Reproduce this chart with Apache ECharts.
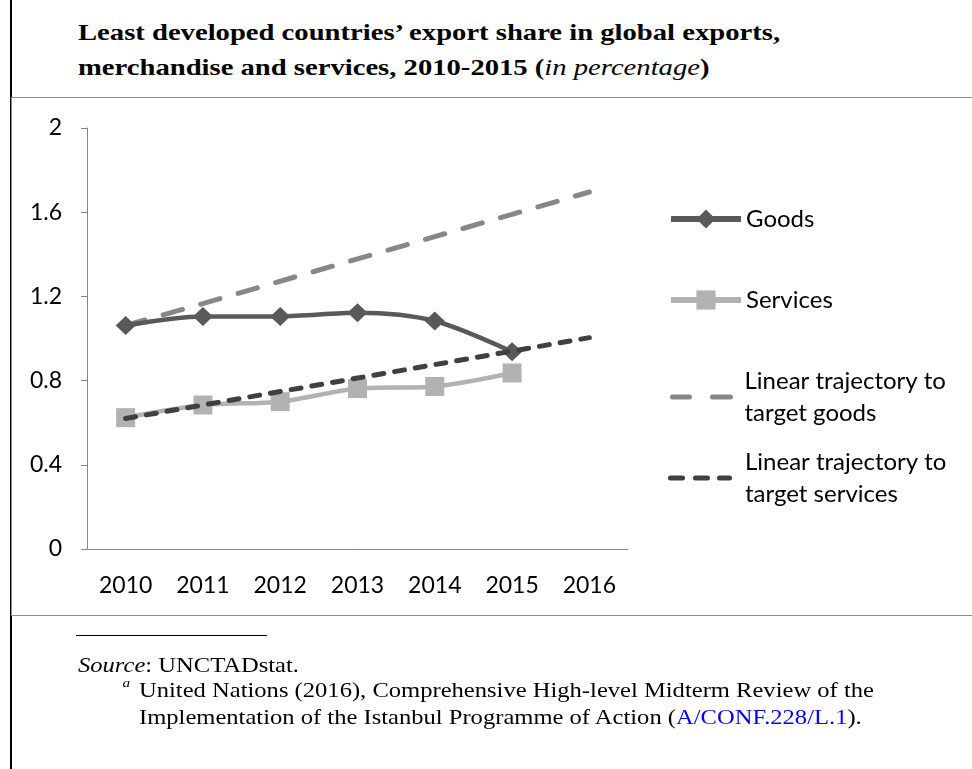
<!DOCTYPE html>
<html>
<head>
<meta charset="utf-8">
<script src="https://cdn.jsdelivr.net/npm/echarts@6/dist/echarts.min.js"></script>
<style>
  html, body { margin: 0; padding: 0; background: #fff; }
  body { width: 972px; height: 769px; position: relative; overflow: hidden; }
  .rule { position: absolute; left: 10px; top: 0; width: 2px; height: 769px; background: #000; }
  .frame { position: absolute; left: 11px; top: 97px; width: 980px; height: 519px; border: 1px solid #8c8c8c; box-sizing: border-box; }
  .title { position: absolute; left: 78px; top: 15px; font: bold 23px "Liberation Serif", serif; line-height: 35px; color: #000; white-space: nowrap; transform: scaleX(1.245); transform-origin: 0 0; }
  #chart { position: absolute; left: 0; top: 0; width: 972px; height: 769px; }
  .sep { position: absolute; left: 76px; top: 635px; width: 191px; height: 1px; background: #000; }
  .foot { position: absolute; font: 21px "Liberation Serif", serif; color: #000; line-height: 27px; white-space: nowrap; transform: scaleX(1.17); transform-origin: 0 0; }
  .foot a { color: #0000ff; text-decoration: none; }
  .foot sup { position: absolute; left: -14px; top: -8px; font-size: 13px; font-style: italic; }
</style>
</head>
<body>
<div class="rule"></div>
<div class="frame"></div>
<div class="title">Least developed countries’ export share in global exports,<br>merchandise and services, 2010-2015 (<i style="font-weight:normal">in percentage</i>)</div>
<div id="chart"></div>
<div class="sep"></div>
<div class="foot" style="left:78px; top:652px;"><i>Source</i>: UNCTADstat.</div>
<div class="foot" style="left:139px; top:677px;"><sup>a</sup>United Nations (2016), Comprehensive High-level Midterm Review of the<br>Implementation of the Istanbul Programme of Action (<a>A/CONF.228/L.1</a>).</div>
<script>
const years = ["2010", "2011", "2012", "2013", "2014", "2015", "2016"];
const goods = [1.062, 1.105, 1.105, 1.122, 1.083, 0.937, null];
const services = [0.624, 0.684, 0.700, 0.762, 0.772, 0.836, null];
const targetGoods = [1.062, 1.166, 1.272, 1.378, 1.484, 1.590, 1.696];
const targetServices = [0.620, 0.684, 0.748, 0.812, 0.876, 0.940, 1.004];
const yTicks = [0, 0.4, 0.8, 1.2, 1.6, 2];

const chart = echarts.init(document.getElementById("chart"));
const font = "Lato, 'Open Sans', sans-serif";
const legendText = { fontFamily: font, fontSize: 24, color: "#000", lineHeight: 32 };

// dashed legend icons (two long dashes / three short dashes)
const iconLongDash = "path://M2.5,0H19.5A2.5,2.5,0,0,1,19.5,5H2.5A2.5,2.5,0,0,1,2.5,0Z M42.5,0H60.5A2.5,2.5,0,0,1,60.5,5H42.5A2.5,2.5,0,0,1,42.5,0Z";
const iconShortDash = "path://M2.5,0H14.5A2.5,2.5,0,0,1,14.5,5H2.5A2.5,2.5,0,0,1,2.5,0Z M27.5,0H39.5A2.5,2.5,0,0,1,39.5,5H27.5A2.5,2.5,0,0,1,27.5,0Z M51.5,0H61.5A2.5,2.5,0,0,1,61.5,5H51.5A2.5,2.5,0,0,1,51.5,0Z";

const legendBase = {
  orient: "vertical",
  itemGap: 0,
  padding: 0,
  selectedMode: false
};

chart.setOption({
  animation: false,
  grid: { left: 87, right: 344, top: 128, bottom: 220 },
  legend: [
    { ...legendBase, data: ["Goods"], left: 668, top: 203, itemWidth: 70, itemHeight: 24,
      lineStyle: { width: 6 }, textStyle: { ...legendText } },
    { ...legendBase, data: ["Services"], left: 668, top: 284, itemWidth: 70, itemHeight: 24,
      lineStyle: { width: 6 }, textStyle: { ...legendText } },
    { ...legendBase, data: ["Linear trajectory to\ntarget goods"], left: 670, top: 349, icon: iconLongDash,
      itemWidth: 64, itemHeight: 5, textStyle: { ...legendText, padding: [32, 0, 0, 6] } },
    { ...legendBase, data: ["Linear trajectory to\ntarget services"], left: 668, top: 430, icon: iconShortDash,
      itemWidth: 64, itemHeight: 5, textStyle: { ...legendText, padding: [32, 0, 0, 8] } }
  ],
  xAxis: {
    type: "category",
    data: years,
    boundaryGap: true,
    axisLine: { lineStyle: { color: "#868686", width: 1 } },
    axisTick: { length: 7, lineStyle: { color: "#868686" } },
    axisLabel: { fontFamily: font, fontSize: 23, color: "#000", margin: 25 }
  },
  yAxis: {
    type: "value",
    min: yTicks[0],
    max: yTicks[yTicks.length - 1],
    interval: 0.4,
    splitLine: { show: false },
    axisLine: { show: true, lineStyle: { color: "#868686", width: 1 } },
    axisTick: { show: true, length: 6, lineStyle: { color: "#868686" } },
    axisLabel: { fontFamily: font, fontSize: 23, color: "#000", margin: 25 }
  },
  series: [
    {
      name: "Goods",
      type: "line",
      data: goods,
      smooth: 0.3,
      symbol: "diamond",
      symbolSize: [20, 19],
      lineStyle: { color: "#595959", width: 4.5 },
      itemStyle: { color: "#595959" },
      z: 4
    },
    {
      name: "Services",
      type: "line",
      data: services,
      smooth: 0.3,
      symbol: "rect",
      symbolSize: 19,
      lineStyle: { color: "#b2b2b2", width: 4.5 },
      itemStyle: { color: "#b2b2b2" },
      z: 2
    },
    {
      name: "Linear trajectory to\ntarget goods",
      type: "line",
      data: targetGoods,
      symbol: "none",
      lineStyle: { color: "#878787", width: 5, type: [20, 19], cap: "round" },
      itemStyle: { color: "#878787" },
      z: 3
    },
    {
      name: "Linear trajectory to\ntarget services",
      type: "line",
      data: targetServices,
      symbol: "none",
      lineStyle: { color: "#404040", width: 5, type: [10, 11], cap: "round" },
      itemStyle: { color: "#404040" },
      z: 5
    }
  ]
});
</script>
</body>
</html>
